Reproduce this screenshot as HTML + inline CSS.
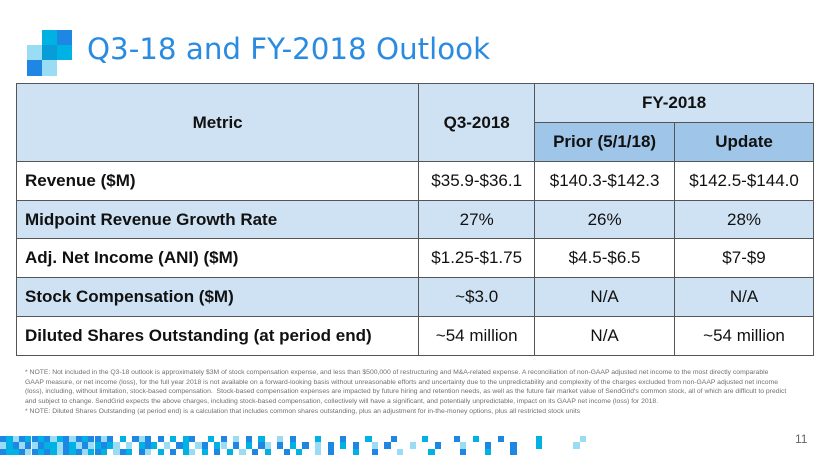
<!DOCTYPE html>
<html><head><meta charset="utf-8">
<style>
body{margin:0;width:830px;height:467px;background:#fff;position:relative;overflow:hidden;font-family:"Liberation Sans",sans-serif}
.sq{position:absolute}
#title{position:absolute;left:87px;top:32px;font-size:29.3px;color:#2a8be0;font-family:"DejaVu Sans","Liberation Sans",sans-serif;font-weight:normal;white-space:nowrap}
table{position:absolute;left:16px;top:83px;border-collapse:collapse;width:798px}
td{border:1.5px solid #555;text-align:center;font-size:17px;color:#111;padding:0}
td.m{text-align:left;padding-left:8px;font-weight:bold}
.h{background:#cfe2f3;font-weight:bold}
.s{background:#9fc5e8;font-weight:bold}
.b{background:#cfe2f3}
#notes{position:absolute;left:25px;top:368px;font-size:6.8px;line-height:9.7px;color:#6f6f6f;font-family:"Liberation Sans",sans-serif;white-space:nowrap}
#pg{position:absolute;left:795px;top:432px;font-size:12px;color:#666}
</style></head><body>
<div>
<div class="sq" style="left:42px;top:30px;width:15px;height:15px;background:#00b2e3"></div>
<div class="sq" style="left:57px;top:30px;width:15px;height:15px;background:#1e86e3"></div>
<div class="sq" style="left:27px;top:45px;width:15px;height:15px;background:#99dcf3"></div>
<div class="sq" style="left:42px;top:45px;width:15px;height:15px;background:#079dd6"></div>
<div class="sq" style="left:57px;top:45px;width:15px;height:15px;background:#00b2e3"></div>
<div class="sq" style="left:27px;top:60px;width:15px;height:16px;background:#1e86e3"></div>
<div class="sq" style="left:42px;top:60px;width:15px;height:16px;background:#99dcf3"></div>
</div>
<div id="title">Q3-18 and FY-2018 Outlook</div>
<table>
<colgroup><col style="width:403px"><col style="width:116px"><col style="width:140px"><col style="width:139px"></colgroup>
<tr style="height:39px"><td class="h" rowspan="2" style="text-align:center">Metric</td><td class="h" rowspan="2">Q3-2018</td><td class="h" colspan="2">FY-2018</td></tr>
<tr style="height:39px"><td class="s">Prior (5/1/18)</td><td class="s">Update</td></tr>
<tr style="height:39px"><td class="m">Revenue ($M)</td><td>$35.9-$36.1</td><td>$140.3-$142.3</td><td>$142.5-$144.0</td></tr>
<tr style="height:38px" class="b"><td class="m">Midpoint Revenue Growth Rate</td><td>27%</td><td>26%</td><td>28%</td></tr>
<tr style="height:39px"><td class="m">Adj. Net Income (ANI) ($M)</td><td>$1.25-$1.75</td><td>$4.5-$6.5</td><td>$7-$9</td></tr>
<tr style="height:39px" class="b"><td class="m">Stock Compensation ($M)</td><td>~$3.0</td><td>N/A</td><td>N/A</td></tr>
<tr style="height:39px"><td class="m">Diluted Shares Outstanding (at period end)</td><td>~54 million</td><td>N/A</td><td>~54 million</td></tr>
</table>
<div id="notes">* NOTE: Not included in the Q3-18 outlook is approximately $3M of stock compensation expense, and less than $500,000 of restructuring and M&amp;A-related expense. A reconciliation of non-GAAP adjusted net income to the most directly comparable<br>GAAP measure, or net income (loss), for the full year 2018 is not available on a forward-looking basis without unreasonable efforts and uncertainty due to the unpredictability and complexity of the charges excluded from non-GAAP adjusted net income<br>(loss), including, without limitation, stock-based compensation.&nbsp; Stock-based compensation expenses are impacted by future hiring and retention needs, as well as the future fair market value of SendGrid's common stock, all of which are difficult to predict<br>and subject to change. SendGrid expects the above charges, including stock-based compensation, collectively will have a significant, and potentially unpredictable, impact on its GAAP net income (loss) for 2018.<br>* NOTE: Diluted Shares Outstanding (at period end) is a calculation that includes common shares outstanding, plus an adjustment for in-the-money options, plus all restricted stock units</div>
<div id="pattern"></div>
<div id="pg">11</div>
<script>
var rows=[
"12312121321312113102013101020210020103010200301000200010002000100002000010020001000002000000300",
"32131312231231321230302120301203102301020130102010301020100301000300010003000100010002000003000",
"12213121231213212031201302010230201020301020010200301000200100030000200001000200010000000000000"];
var cols=["","#1e86e3","#00b2e3","#99dcf3"];
var p=document.getElementById('pattern');
for(var r=0;r<3;r++)for(var c=0;c<rows[r].length;c++){var v=+rows[r][c];if(!v)continue;var d=document.createElement('div');d.className='sq';d.style.cssText='left:'+(c*6.3)+'px;top:'+(436+r*6.3)+'px;width:6.3px;height:6.3px;background:'+cols[v];p.appendChild(d);}
</script>
</body></html>
